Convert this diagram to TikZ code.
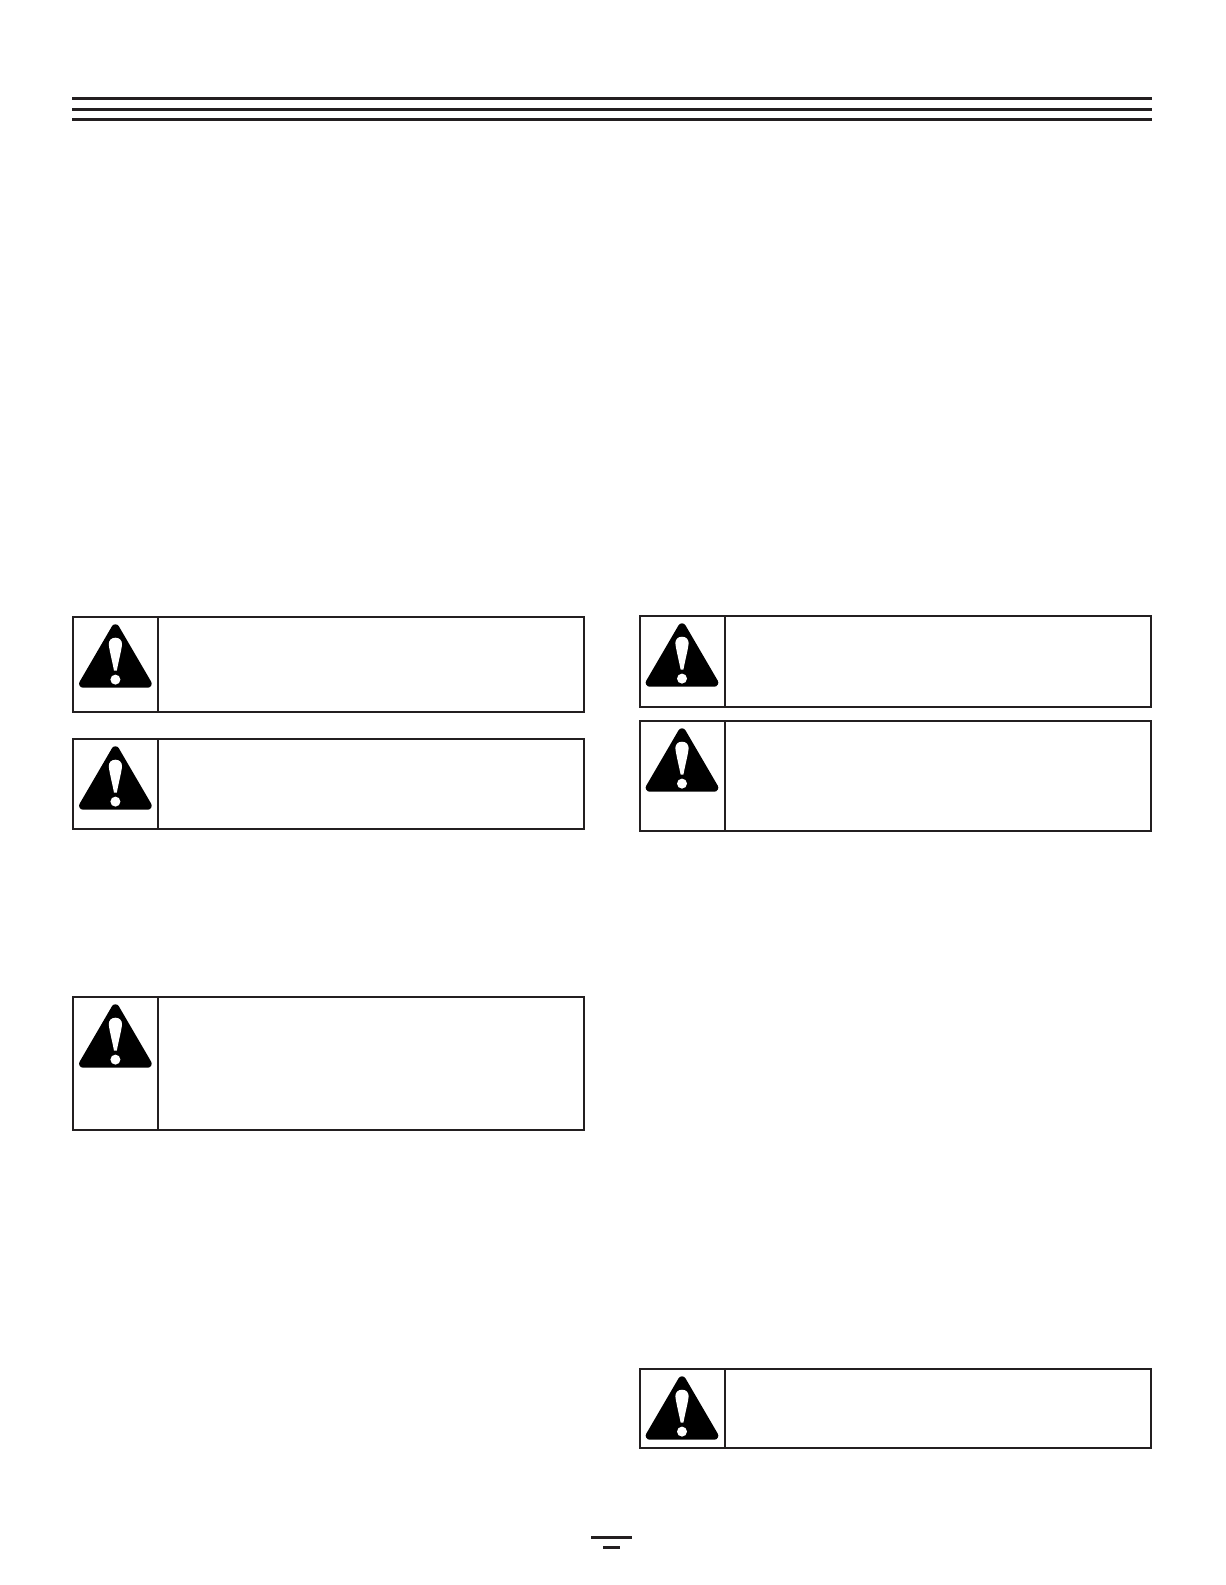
\documentclass[tikz,border=0pt]{standalone}
\definecolor{ink}{HTML}{231F20}
\tikzset{
  x=0.75pt,y=-0.75pt,
  frame/.style={draw=ink,line width=1.7pt,fill=white},
  rulebar/.style={fill=ink,draw=none},
  warnicon/.pic={
    \filldraw[black,line width=6pt,line join=round] (0,-28.7) -- (-32.3,26.7) -- (32.3,26.7) -- cycle;
    \fill[white] (0,-19.3) .. controls (-4.2,-19.3) and (-6.6,-16.5) .. (-6.6,-13)
       .. controls (-6.6,-9) and (-3,5) .. (-1.4,13.5) -- (1.4,13.5)
       .. controls (3,5) and (6.6,-9) .. (6.6,-13)
       .. controls (6.6,-16.5) and (4.2,-19.3) .. (0,-19.3) -- cycle;
    \fill[white] (0,22.6) circle[radius=5];
  }
}
\newcommand{\warnbox}[6]{% left, top, right, bottom, divider, icon centre x
  \draw[frame] (#1,#2) rectangle (#3,#4);
  \draw[draw=ink,line width=1.7pt] (#5,#2) -- (#5,#4);
  \pic at (#6,{#2+40}) {warnicon};
}
\begin{document}
\begin{tikzpicture}
\useasboundingbox (0,0) rectangle (1225,1585);
\fill[white] (0,0) rectangle (1225,1585);
% header rules
\fill[rulebar] (72,97) rectangle (1152,100);
\fill[rulebar] (72,108) rectangle (1152,111);
\fill[rulebar] (72,118) rectangle (1152,121);
% left column
\warnbox{73}{617}{584}{712}{158}{115.4}
\warnbox{73}{739}{584}{829}{158}{115.4}
\warnbox{73}{997}{584}{1130}{158}{115.4}
% right column
\warnbox{640}{616}{1151}{707}{725}{682}
\warnbox{640}{721}{1151}{831}{725}{682}
\warnbox{640}{1369}{1151}{1448}{725}{682}
% footer marks
\fill[rulebar] (591,1536) rectangle (632,1539);
\fill[rulebar] (603,1546) rectangle (620,1549);
\end{tikzpicture}
\end{document}
